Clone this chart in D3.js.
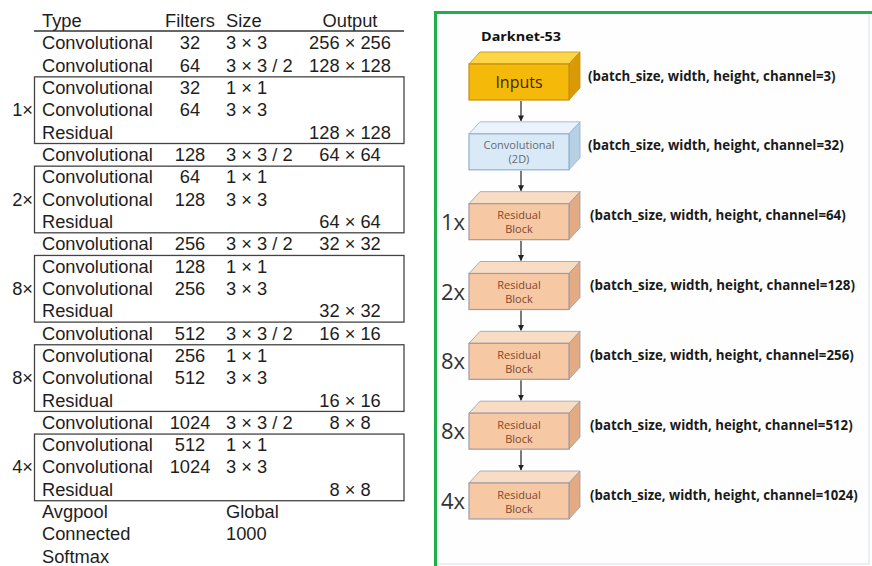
<!DOCTYPE html>
<html><head><meta charset="utf-8">
<script src="https://cdn.jsdelivr.net/npm/d3@7"></script>
<style>body{margin:0;background:#fff;}svg{display:block;}</style>
</head><body>
<script>
// ---- Table data (left) ----
const headers = ["Type", "Filters", "Size", "Output"];
const types   = ["Convolutional","Convolutional","Convolutional","Convolutional","Residual","Convolutional","Convolutional","Convolutional","Residual","Convolutional","Convolutional","Convolutional","Residual","Convolutional","Convolutional","Convolutional","Residual","Convolutional","Convolutional","Convolutional","Residual","Avgpool","Connected","Softmax"];
const filters = ["32","64","32","64","","128","64","128","","256","128","256","","512","256","512","","1024","512","1024","","","",""];
const sizes   = ["3 × 3","3 × 3 / 2","1 × 1","3 × 3","","3 × 3 / 2","1 × 1","3 × 3","","3 × 3 / 2","1 × 1","3 × 3","","3 × 3 / 2","1 × 1","3 × 3","","3 × 3 / 2","1 × 1","3 × 3","","Global","1000",""];
const outputs = ["256 × 256","128 × 128","","","128 × 128","64 × 64","","","64 × 64","32 × 32","","","32 × 32","16 × 16","","","16 × 16","8 × 8","","","8 × 8","","",""];
// residual groups: [first row, last row, multiplier]
const groupStart = [2, 6, 10, 14, 18];
const groupEnd   = [4, 8, 12, 16, 20];
const groupMult  = ["1×", "2×", "8×", "8×", "4×"];

// ---- Diagram data (right) ----
const diagramTitle = "Darknet-53";
const blockNames  = ["Inputs", "Convolutional (2D)", "Residual Block", "Residual Block", "Residual Block", "Residual Block", "Residual Block"];
const blockKinds  = ["input", "conv", "res", "res", "res", "res", "res"];
const blockMult   = ["", "", "1x", "2x", "8x", "8x", "4x"];
const channels    = [3, 32, 64, 128, 256, 512, 1024];

const W = 872, H = 566;
const svg = d3.select("body").append("svg").attr("width", W).attr("height", H);

// ---------- LEFT TABLE ----------
const rowY = d3.scaleLinear().domain([0, types.length - 1]).range([43, 556.5]); // row centers
const font = "'Liberation Sans', Arial, Helvetica, sans-serif";
const fs = 18.3;
const ink = "#1e1e1e";
const colX = { type: 42, filters: 190, size: 226, output: 350 };

const left = svg.append("g").attr("font-family", font).attr("font-size", fs).attr("fill", ink);

const hdr = [
  {t: headers[0], x: colX.type, a: "start"},
  {t: headers[1], x: colX.filters, a: "middle"},
  {t: headers[2], x: colX.size, a: "start"},
  {t: headers[3], x: colX.output, a: "middle"}
];
left.selectAll("text.hdr").data(hdr).join("text").attr("class","hdr")
  .attr("x", d => d.x).attr("y", 26.5).attr("text-anchor", d => d.a).text(d => d.t);
left.append("line").attr("x1", 34).attr("x2", 404).attr("y1", 31).attr("y2", 31)
  .attr("stroke", "#333").attr("stroke-width", 1.6);

const rows = types.map((t, i) => ({i, t, f: filters[i], s: sizes[i], o: outputs[i]}));
const rg = left.selectAll("g.row").data(rows).join("g").attr("class","row")
  .attr("transform", d => `translate(0,${rowY(d.i) + 6.3})`);
rg.append("text").attr("x", colX.type).text(d => d.t);
rg.append("text").attr("x", colX.filters).attr("text-anchor","middle").text(d => d.f);
rg.append("text").attr("x", colX.size).text(d => d.s);
rg.append("text").attr("x", colX.output).attr("text-anchor","middle").text(d => d.o);

const groups = groupStart.map((s, k) => ({s, e: groupEnd[k], m: groupMult[k]}));
left.selectAll("rect.grp").data(groups).join("rect").attr("class","grp")
  .attr("x", 34.5).attr("width", 369.5)
  .attr("y", d => rowY(d.s) - 10.8)
  .attr("height", d => rowY(d.e) - rowY(d.s) + 22)
  .attr("fill", "none").attr("stroke", "#444").attr("stroke-width", 1.3);
left.selectAll("text.mult").data(groups).join("text").attr("class","mult")
  .attr("x", 33).attr("text-anchor","end")
  .attr("y", d => rowY((d.s + d.e) / 2) + 6.3).text(d => d.m);

// ---------- RIGHT DIAGRAM ----------
svg.append("rect").attr("x", 436).attr("y", 13).attr("width", 433).attr("height", 551)
  .attr("fill", "#fdfefd").attr("stroke", "#dcefe8").attr("stroke-width", 1.5);
svg.append("path").attr("d", "M435.5,566 L435.5,12.5 L872,12.5")
  .attr("fill", "none").attr("stroke", "#1fb04a").attr("stroke-width", 3);

const rf = "'Open Sans', 'Noto Sans', sans-serif";
svg.append("text").attr("x", 481).attr("y", 41).attr("font-family", rf).attr("font-weight", "bold")
  .attr("font-size", 13).attr("fill", "#111").attr("textLength", 80).attr("lengthAdjust","spacingAndGlyphs")
  .text(diagramTitle);

const by = d3.scaleLinear().domain([0, blockNames.length - 1]).range([82, 501]); // front centers
const bx0 = 469, bw = 100, bh = 36, dx = 11, dy = -12;
const palette = {
  input: {front: "#f5b90a", top: "#fcd548", side: "#d99a05", stroke: "#c49010", text: "#3f2a00", fs: 16},
  conv:  {front: "#d9e9f6", top: "#eaf3fb", side: "#b8d0e6", stroke: "#90b2cf", text: "#666b72", fs: 11},
  res:   {front: "#f6c8a3", top: "#f9dcc4", side: "#e2ab84", stroke: "#a09aa6", text: "#80492c", fs: 11}
};

const blocks = blockNames.map((n, i) => ({i, n, k: blockKinds[i], m: blockMult[i], c: channels[i]}));

const defs = svg.append("defs");
defs.append("marker").attr("id","ah").attr("viewBox","0 0 10 10").attr("refX",9).attr("refY",5)
  .attr("markerWidth",5).attr("markerHeight",5).attr("orient","auto")
  .append("path").attr("d","M0,0L10,5L0,10z").attr("fill","#222");
svg.selectAll("line.arr").data(blocks.slice(1)).join("line").attr("class","arr")
  .attr("x1", 521).attr("x2", 521)
  .attr("y1", d => by(d.i - 1) + bh / 2 + 1)
  .attr("y2", d => by(d.i) - bh / 2 + dy - 1)
  .attr("stroke", "#222").attr("stroke-width", 1.2).attr("marker-end", "url(#ah)");

const bg = svg.selectAll("g.blk").data(blocks).join("g").attr("class","blk")
  .attr("transform", d => `translate(${bx0},${by(d.i) - bh / 2})`);
bg.append("path").attr("d", `M0,0 L${dx},${dy} L${bw + dx},${dy} L${bw},0 Z`)
  .attr("fill", d => palette[d.k].top).attr("stroke", d => palette[d.k].stroke).attr("stroke-width", 0.8);
bg.append("path").attr("d", `M${bw},0 L${bw + dx},${dy} L${bw + dx},${bh + dy} L${bw},${bh} Z`)
  .attr("fill", d => palette[d.k].side).attr("stroke", d => palette[d.k].stroke).attr("stroke-width", 0.8);
bg.append("rect").attr("width", bw).attr("height", bh)
  .attr("fill", d => palette[d.k].front).attr("stroke", d => palette[d.k].stroke).attr("stroke-width", 1.2);
bg.each(function(d) {
  const g = d3.select(this);
  const p = palette[d.k];
  const parts = d.k === "input" ? [d.n] : (d.k === "conv" ? ["Convolutional", "(2D)"] : ["Residual", "Block"]);
  const lh = 14;
  parts.forEach((t, j) => {
    g.append("text").attr("x", bw / 2).attr("text-anchor", "middle")
      .attr("y", bh / 2 + (j - (parts.length - 1) / 2) * lh)
      .attr("dominant-baseline", "central")
      .attr("font-family", rf).attr("font-size", p.fs).attr("fill", p.text).text(t);
  });
});

svg.selectAll("text.rm").data(blocks.filter(d => d.m)).join("text").attr("class","rm")
  .attr("x", 465).attr("text-anchor","end").attr("y", d => by(d.i) + 8)
  .attr("font-family", rf).attr("font-size", 22).attr("fill", "#333").text(d => d.m);

// shape labels: horizontally compressed to the reference widths
const labelW = {3: 248, 32: 256, 64: 256, 128: 265, 256: 264, 512: 263, 1024: 268};
svg.selectAll("text.shape").data(blocks).join("text").attr("class","shape")
  .attr("dominant-baseline", "central")
  .attr("font-family", rf).attr("font-weight", "bold").attr("font-size", 14).attr("fill", "#1a1a1a")
  .text(d => `(batch_size, width, height, channel=${d.c})`)
  .each(function(d) {
    const L = this.getComputedTextLength();
    const sx = labelW[d.c] / L;
    const x = d.k === "res" ? 590 : 588;
    d3.select(this).attr("transform", `translate(${x},${by(d.i) - 7}) scale(${sx},1)`);
  });
</script>
</body></html>
